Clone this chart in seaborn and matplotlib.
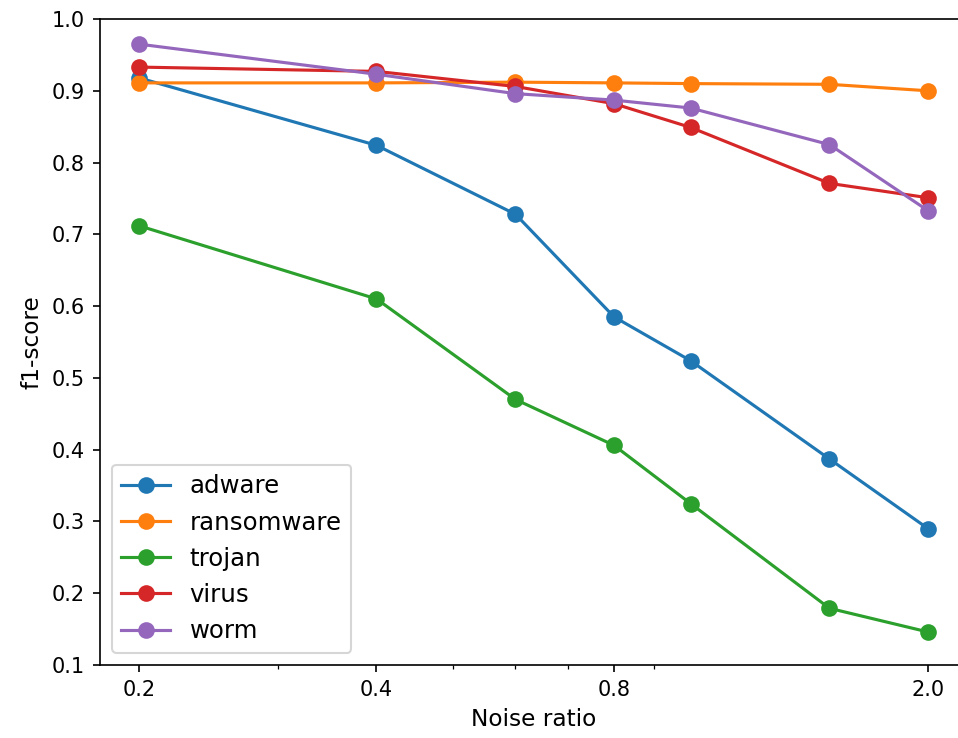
import matplotlib
matplotlib.use("Agg")
import matplotlib.pyplot as plt
from matplotlib.ticker import NullFormatter
import numpy as np
import pandas as pd
import seaborn as sns

noise_ratio = [0.2, 0.4, 0.6, 0.8, 1.0, 1.5, 2.0]
adware = [0.918, 0.824, 0.728, 0.585, 0.524, 0.387, 0.290]
ransomware = [0.911, 0.911, 0.912, 0.911, 0.910, 0.909, 0.900]
trojan = [0.712, 0.610, 0.470, 0.406, 0.325, 0.179, 0.146]
virus = [0.933, 0.927, 0.906, 0.882, 0.849, 0.771, 0.751]
worm = [0.965, 0.923, 0.896, 0.887, 0.876, 0.825, 0.733]

families = ["adware", "ransomware", "trojan", "virus", "worm"]
scores = [adware, ransomware, trojan, virus, worm]
xtick_values = [0.2, 0.4, 0.8, 2.0]
xtick_labels = ["0.2", "0.4", "0.8", "2.0"]
ytick_values = [0.1, 0.2, 0.3, 0.4, 0.5, 0.6, 0.7, 0.8, 0.9, 1.0]

rows = []
for fam, vals in zip(families, scores):
    for x, y in zip(noise_ratio, vals):
        rows.append({"Noise ratio": x, "f1-score": y, "family": fam})
df = pd.DataFrame(rows)

fig = plt.figure(figsize=(958 / 150, 738 / 150), dpi=150)
ax = fig.add_axes([99.5 / 958, 73 / 738, 868 / 958, 646 / 738])

sns.lineplot(
    data=df, x="Noise ratio", y="f1-score", hue="family",
    hue_order=families, palette="tab10", marker="o",
    markersize=8, markeredgewidth=0, linewidth=1.5, ax=ax,
)

ax.set_xscale("log")
ax.set_xticks(xtick_values)
ax.set_xticklabels(xtick_labels)
ax.xaxis.set_minor_formatter(NullFormatter())
ax.set_ylim(0.1, 1.0)
ax.set_yticks(ytick_values)
ax.set_yticklabels([f"{v:.1f}" for v in ytick_values])
ax.tick_params(axis="both", labelsize=10)
ax.set_xlabel("Noise ratio", fontsize=11.2)
ax.set_ylabel("f1-score", fontsize=11.2)

leg = ax.legend(loc="lower left", title=None, fontsize=11.7)

fig.savefig("out.png", dpi=150)
